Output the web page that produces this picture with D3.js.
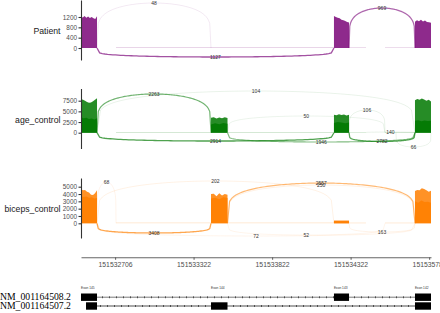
<!DOCTYPE html>
<html>
<head>
<meta charset="utf-8">
<script src="https://cdn.jsdelivr.net/npm/d3@7"></script>
<style>
  body { margin: 0; background: #fff; }
  svg { display: block; font-family: "Liberation Sans", Arial, sans-serif; }
</style>
</head>
<body>
<svg id="chart" width="440" height="313"></svg>
<script>
var sampleNames = ['Patient', 'age_control', 'biceps_control'];
var sampleColors = ['#7a0578', '#007800', '#ff7f00'];
var yTicks = [[0, 400, 800, 1200], [0, 2500, 5000, 7500], [0, 1000, 2000, 3000, 4000, 5000]];
var yLimits = [[-464, 1858], [-3703, 10359], [-2008, 6189]];

var exonNames = ['Exon 145', 'Exon 144', 'Exon 143', 'Exon 142'];
var exonStarts = [151532605, 151533433, 151534216, 151534732];
var exonEnds = [151532707, 151533538, 151534312, 151534834];

// read depth over each exon, one list per replicate (empty list = no reads)
var patientCoverage = [
  [[1210, 1180, 1240, 1170, 1220, 1160, 1200, 1150, 1120, 1230],
   [],
   [1240, 1200, 1170, 1150, 1090, 1070, 1050, 1010, 990],
   [1020, 1070, 1040, 1090, 1030, 1060, 1010, 1000, 980]]
];
var ageCoverage = [
  [[7900, 7700, 7500, 7200, 7030, 7100, 7400, 7700, 8060],
   [3500, 3600, 3300, 3550, 3400, 3600, 3450],
   [4200, 4100, 4300, 4150, 4250, 4050, 4200],
   [7600, 7900, 7700, 8000, 7800, 7500, 7700, 7300]],
  [[3600, 3400, 3500, 3200, 3300, 3100, 3400],
   [1900, 2200, 2000, 2300, 2100],
   [2300, 2500, 2400, 2200, 2400],
   [2800, 2900, 2700, 2850, 2750, 2800]]
];
var bicepsCoverage = [
  [[4640, 4500, 4550, 4300, 4200, 3900, 3870, 4100, 4500],
   [4000, 4050, 3700, 4100, 3800, 4000, 3900],
   [380, 380, 380],
   [4400, 4550, 4500, 4800, 4700, 4500, 4300, 4450]],
  [[3700, 3600, 3650, 3500, 3550, 3400, 3450],
   [3400, 3500, 3300, 3550, 3450],
   [300, 300, 300],
   [3000, 2800, 3100, 2900, 2950, 2800]]
];

// low intronic depth: [start, end, depth]
var patientIntrons = [[151532828, 151534216, 25], [151534312, 151534420, 25], [151534541, 151534732, 25]];
var ageIntrons = [[151532828, 151533433, 150], [151533538, 151534216, 150], [151534312, 151534420, 150], [151534541, 151534732, 150]];
var bicepsIntrons = [[151532828, 151533433, 95], [151533538, 151534216, 95], [151534312, 151534420, 95], [151534541, 151534732, 95]];

// junctions: [donor, acceptor, reads, arc apex (depth units)]
var patientJunctions = [
  [151532707, 151533433, 48, 1742],
  [151532707, 151534216, 1127, -348],
  [151534312, 151534732, 969, 1548]
];
var ageJunctions = [
  [151532707, 151533433, 2263, 9070],
  [151532707, 151534732, 104, 9770],
  [151533538, 151534541, 50, 3910],
  [151534312, 151534541, 106, 5320],
  [151534420, 151534732, 140, 150],
  [151532707, 151534216, 2914, -1950],
  [151533538, 151534732, 1946, -2180],
  [151534312, 151534732, 2782, -2060],
  [151534611, 151534834, 66, -3350]
];
var bicepsJunctions = [
  [151532707, 151532828, 68, 5640],
  [151532707, 151534216, 202, 5780],
  [151533538, 151534732, 2557, 5500],
  [151533538, 151534732, 250, 5230],
  [151532707, 151533433, 3408, -1325],
  [151532707, 151534732, 72, -1735],
  [151533538, 151534541, 52, -1600],
  [151534312, 151534732, 163, -1190]
];

var xTickValues = [151532822, 151533322, 151533822, 151534322, 151534822];
var xTickLabels = ['151532706', '151533322', '151533822', '151534322', '151535782'];

var txNames = ['NM_001164508.2', 'NM_001164507.2'];
var txExonStarts = [[151532605, 151534216, 151534732], [151532637, 151533433, 151534732]];
var txExonEnds = [[151532707, 151534312, 151534834], [151532707, 151533538, 151534834]];

var coverages = [patientCoverage, ageCoverage, bicepsCoverage];
var introns = [patientIntrons, ageIntrons, bicepsIntrons];
var junctions = [patientJunctions, ageJunctions, bicepsJunctions];

var svg = d3.select('#chart');
var x = d3.scaleLinear().domain([151532605, 151534834]).range([81, 431]);
var panelTop = [0, 88.5, 178], panelHeight = 60;

function arcPath(x1, x2, y0, yp) {
  var pts = d3.range(0, 1.00001, 1 / 90).map(function (t) {
    return [x1 + (x2 - x1) * t, y0 + (yp - y0) * Math.pow(Math.sin(Math.PI * t), 0.18)];
  });
  return d3.line()(pts);
}

sampleNames.forEach(function (name, i) {
  var top = panelTop[i],
      color = sampleColors[i],
      y = d3.scaleLinear().domain(yLimits[i]).range([top + panelHeight, top]),
      g = svg.append('g'),
      area = d3.area().x(function (d) { return d[0]; }).y0(y(0)).y1(function (d) { return y(d[1]); });

  // faint intronic reads
  introns[i].forEach(function (d) {
    g.append('path').attr('d', area([[x(d[0]), d[2]], [x(d[1]), d[2]]]))
      .attr('fill', color).attr('fill-opacity', 0.22);
  });

  coverages[i].forEach(function (rep) {
    rep.forEach(function (vals, e) {
      if (!vals.length) return;
      var step = (exonEnds[e] - exonStarts[e]) / (vals.length - 1);
      var pts = vals.map(function (v, k) { return [x(exonStarts[e] + k * step), v]; });
      g.append('path').attr('d', area(pts)).attr('fill', color).attr('fill-opacity', 0.85);
    });
  });

  var maxCount = d3.max(junctions[i], function (d) { return d[2]; });
  junctions[i].forEach(function (d) {
    var f = d[2] / maxCount;
    g.append('path')
      .attr('d', arcPath(x(d[0]), x(d[1]), y(0), y(d[3])))
      .attr('fill', 'none')
      .attr('stroke', color)
      .attr('stroke-width', 0.8 + 0.5 * f)
      .attr('stroke-opacity', 0.09 + 0.6 * f);
  });
  junctions[i].forEach(function (d) {
    g.append('text')
      .attr('x', x((d[0] + d[1]) / 2))
      .attr('y', y(d[3]))
      .attr('dy', '0.35em')
      .attr('text-anchor', 'middle')
      .attr('font-size', 5)
      .attr('fill', '#333')
      .text(d[2]);
  });

  var axis = g.append('g').attr('transform', 'translate(81,0)')
    .call(d3.axisLeft(y).tickValues(yTicks[i]).tickFormat(d3.format('d'))
      .tickSize(2.5).tickPadding(1.5).tickSizeOuter(0));
  axis.selectAll('path, line').attr('stroke', '#333').attr('stroke-width', 1.1);
  axis.selectAll('text').attr('font-size', 6.4).attr('fill', '#4d4d4d')
    .attr('font-family', '"Liberation Sans", Arial, sans-serif');

  g.append('text')
    .attr('x', 60.5).attr('y', top + panelHeight / 2 + 1)
    .attr('dy', '0.35em').attr('text-anchor', 'end')
    .attr('font-size', 8.7).attr('fill', '#1a1a1a')
    .text(name);
});

// genomic axis
var xAxis = svg.append('g').attr('transform', 'translate(0,257.3)')
  .call(d3.axisBottom(x).tickValues(xTickValues)
    .tickFormat(function (d, i) { return xTickLabels[i]; })
    .tickSize(2.5).tickPadding(2.3).tickSizeOuter(0));
xAxis.selectAll('path, line').attr('stroke', '#666').attr('stroke-width', 1.1);
xAxis.selectAll('text').attr('font-size', 6.8).attr('fill', '#4d4d4d')
  .attr('font-family', '"Liberation Sans", Arial, sans-serif');

// transcript track
var rowY = [297.2, 306], blockH = 7.4;
txNames.forEach(function (name, t) {
  var starts = txExonStarts[t], ends = txExonEnds[t],
      x0 = x(starts[0]), x1 = x(ends[ends.length - 1]),
      cy = rowY[t];
  svg.append('line').attr('x1', x0).attr('x2', x1).attr('y1', cy).attr('y2', cy)
    .attr('stroke', t === 0 ? '#222' : '#8a8a8a').attr('stroke-width', t === 0 ? 0.6 : 1.3);
  svg.append('line').attr('x1', x0).attr('x2', x1).attr('y1', cy).attr('y2', cy)
    .attr('stroke', '#111').attr('stroke-width', 2).attr('stroke-dasharray', '0.6 6.4');
  starts.forEach(function (s, k) {
    svg.append('rect').attr('x', x(s)).attr('y', cy - blockH / 2)
      .attr('width', x(ends[k]) - x(s)).attr('height', blockH).attr('fill', '#000');
  });
  svg.append('text').attr('x', 0).attr('y', cy).attr('dy', '0.33em')
    .attr('font-family', '"Liberation Serif", "Times New Roman", serif')
    .attr('font-size', 9.7).attr('fill', '#000').text(name);
});

exonNames.forEach(function (name, k) {
  svg.append('text').attr('x', x(exonStarts[k])).attr('y', 288.5)
    .attr('font-size', 3.2).attr('fill', '#333').text(name);
});
</script>
</body>
</html>
